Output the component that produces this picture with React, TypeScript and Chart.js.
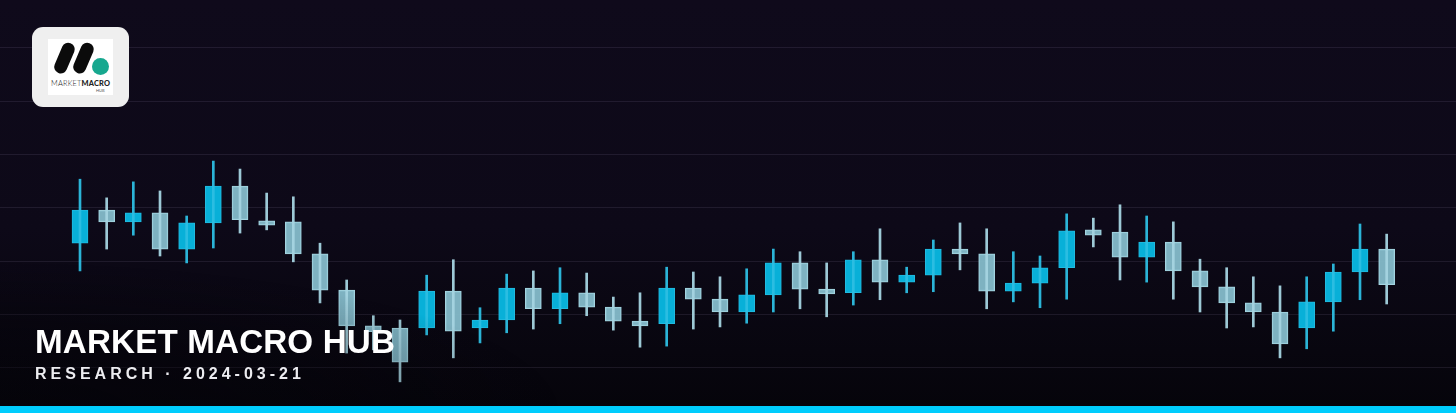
import React, { useEffect, useRef } from "react";
import { Chart, registerables } from "chart.js";

Chart.register(...registerables);

const sessions = Array.from({ length: 50 }, (_, i) => `D${i + 1}`);

const opens = [123.4, 129.6, 127.4, 129.1, 122.3, 127.2, 134.1, 127.6, 127.4, 121.4, 114.6, 107.9, 107.5, 107.5, 114.4, 107.5, 109.0, 115.0, 111.1, 114.1, 111.4, 108.8, 108.3, 115.0, 112.9, 110.5, 113.7, 119.7, 114.8, 114.1, 120.3, 116.1, 117.4, 122.3, 121.4, 114.4, 115.9, 118.8, 125.9, 125.5, 120.8, 123.6, 118.2, 115.2, 112.2, 110.5, 107.5, 112.4, 118.0, 122.3];
const closes = [129.6, 127.4, 129.1, 122.3, 127.2, 134.1, 127.8, 126.8, 121.4, 114.6, 107.9, 106.8, 101.1, 114.4, 106.9, 109.0, 115.0, 111.1, 114.1, 111.4, 108.8, 107.9, 115.0, 112.9, 110.5, 113.7, 119.7, 114.8, 113.9, 120.3, 116.1, 117.4, 122.3, 121.4, 114.4, 115.9, 118.8, 125.7, 124.9, 120.8, 123.6, 118.2, 115.2, 112.2, 110.5, 104.5, 112.4, 118.0, 122.3, 115.6];
const highs = [135.4, 131.9, 134.9, 133.2, 128.5, 138.8, 137.3, 132.8, 132.1, 123.4, 116.5, 109.8, 109.0, 117.4, 120.3, 111.3, 117.6, 118.2, 118.8, 117.8, 113.3, 114.1, 118.9, 118.0, 117.1, 118.6, 122.3, 121.8, 119.7, 121.8, 126.1, 118.9, 124.0, 127.2, 126.1, 121.8, 121.0, 128.9, 128.1, 130.6, 128.5, 127.4, 120.4, 118.8, 117.1, 115.4, 117.1, 119.5, 127.0, 125.1];
const lows = [118.2, 122.3, 124.9, 121.0, 119.7, 122.5, 125.3, 125.9, 119.9, 112.2, 102.8, 103.4, 97.4, 106.2, 101.9, 104.7, 106.6, 107.3, 108.3, 109.8, 107.1, 103.9, 104.1, 107.3, 107.7, 108.4, 110.5, 111.1, 109.6, 111.8, 112.8, 114.1, 114.3, 118.4, 111.1, 112.4, 111.3, 112.9, 122.7, 116.5, 116.1, 112.9, 110.5, 107.5, 107.7, 101.9, 103.6, 106.9, 112.8, 112.0];

const gridLevels = [100, 110, 120, 130, 140, 150, 160];

const UP_FILL = "#08b0d8";
const UP_BORDER = "#22bbe0";
const UP_WICK = "rgba(45,190,226,0.95)";
const DOWN_FILL = "rgba(136,192,207,0.93)";
const DOWN_BORDER = "#a4d4e0";
const DOWN_WICK = "rgba(165,212,224,0.95)";

function App() {
  const canvasRef = useRef<HTMLCanvasElement | null>(null);

  useEffect(() => {
    const canvas = canvasRef.current;
    if (!canvas) return;
    const isUp = sessions.map((_, i) => closes[i] >= opens[i]);
    const chart = new Chart(canvas, {
      type: "bar",
      data: {
        labels: sessions,
        datasets: [
          {
            label: "body",
            data: sessions.map((_, i) => ({ x: i, y: [opens[i], closes[i]] })) as any,
            backgroundColor: isUp.map((u) => (u ? UP_FILL : DOWN_FILL)),
            borderColor: isUp.map((u) => (u ? UP_BORDER : DOWN_BORDER)),
            borderWidth: 1,
            borderSkipped: false,
            barThickness: 16,
            grouped: false,
            order: 2,
          } as any,
          {
            label: "wick",
            data: sessions.map((_, i) => ({ x: i, y: [lows[i], highs[i]] })) as any,
            backgroundColor: isUp.map((u) => (u ? UP_WICK : DOWN_WICK)),
            borderWidth: 0,
            barThickness: 2,
            grouped: false,
            order: 1,
          } as any,
        ],
      },
      options: {
        responsive: false,
        animation: false,
        events: [],
        layout: { padding: 0 },
        plugins: {
          legend: { display: false },
          tooltip: { enabled: false },
        },
        scales: {
          x: {
            type: "linear",
            min: -3,
            max: 51.6,
            display: false,
            offset: false,
          },
          y: {
            type: "linear",
            min: 91.56,
            max: 169,
            display: true,
            border: { display: false },
            ticks: { display: false },
            grid: {
              drawTicks: false,
              color: "rgba(205,190,235,0.10)",
              lineWidth: 1,
            },
            afterBuildTicks: (scale: any) => {
              scale.ticks = gridLevels.map((v) => ({ value: v }));
            },
          },
        },
      },
    });
    return () => chart.destroy();
  }, []);

  return (
    <div
      style={{
        position: "absolute",
        left: 0,
        top: 0,
        width: 1456,
        height: 413,
        overflow: "hidden",
        background:
          "linear-gradient(to bottom, #0f0a1b 0%, #0d0918 55%, #08060f 85%, #05040a 100%)",
      }}
    >
      <canvas
        ref={canvasRef}
        width={1456}
        height={413}
        style={{ position: "absolute", left: 0, top: 0, width: 1456, height: 413 }}
      />
      {/* darkening behind the title */}
      <div
        style={{
          position: "absolute",
          left: 0,
          top: 240,
          width: 760,
          height: 173,
          background:
            "radial-gradient(ellipse 560px 150px at 0% 100%, rgba(5,4,10,0.62) 0%, rgba(5,4,10,0.35) 55%, rgba(5,4,10,0) 100%)",
          pointerEvents: "none",
        }}
      />
      {/* logo */}
      <div
        style={{
          position: "absolute",
          left: 32,
          top: 27,
          width: 97,
          height: 80,
          borderRadius: 11,
          background: "#efefef",
        }}
      >
        <div
          style={{
            position: "absolute",
            left: 16,
            top: 12,
            width: 65,
            height: 56,
            background: "#ffffff",
            overflow: "hidden",
          }}
        >
          <div
            style={{
              position: "absolute",
              left: 9.5,
              top: 2.5,
              width: 12.5,
              height: 32,
              borderRadius: 6.25,
              background: "#0b0b0b",
              transform: "rotate(23deg)",
            }}
          />
          <div
            style={{
              position: "absolute",
              left: 29,
              top: 2.5,
              width: 12.5,
              height: 32,
              borderRadius: 6.25,
              background: "#0b0b0b",
              transform: "rotate(23deg)",
            }}
          />
          <div
            style={{
              position: "absolute",
              left: 44,
              top: 19,
              width: 17,
              height: 17,
              borderRadius: "50%",
              background: "#17a88f",
            }}
          />
          <div
            style={{
              position: "absolute",
              left: 3,
              top: 41,
              width: 62,
              fontFamily: "Lato, 'Noto Sans', sans-serif",
              fontSize: 7.4,
              lineHeight: "8px",
              color: "#222",
              letterSpacing: 0.2,
              whiteSpace: "nowrap",
            }}
          >
            <span style={{ fontWeight: 300 }}>MARKET</span>
            <span style={{ fontWeight: 900 }}>MACRO</span>
          </div>
          <div
            style={{
              position: "absolute",
              left: 48,
              top: 50,
              fontFamily: "Lato, 'Noto Sans', sans-serif",
              fontSize: 4,
              lineHeight: "4px",
              color: "#555",
              whiteSpace: "nowrap",
            }}
          >
            HUB
          </div>
        </div>
      </div>
      {/* title */}
      <div
        style={{
          position: "absolute",
          left: 35,
          top: 324.6,
          fontFamily: "'Liberation Sans', Arial, sans-serif",
          fontWeight: 700,
          fontSize: 33.2,
          lineHeight: "33.2px",
          letterSpacing: 0.15,
          color: "#ffffff",
          whiteSpace: "nowrap",
        }}
      >
        MARKET MACRO HUB
      </div>
      <div
        style={{
          position: "absolute",
          left: 35,
          top: 365.6,
          fontFamily: "'Liberation Sans', Arial, sans-serif",
          fontWeight: 700,
          fontSize: 16,
          lineHeight: "16px",
          letterSpacing: 4,
          color: "#ececf0",
          whiteSpace: "nowrap",
        }}
      >
        RESEARCH · 2024-03-21
      </div>
      {/* bottom accent bar */}
      <div
        style={{
          position: "absolute",
          left: 0,
          top: 406,
          width: 1456,
          height: 7,
          background: "#00cdfd",
        }}
      />
    </div>
  );
}

export default App;
